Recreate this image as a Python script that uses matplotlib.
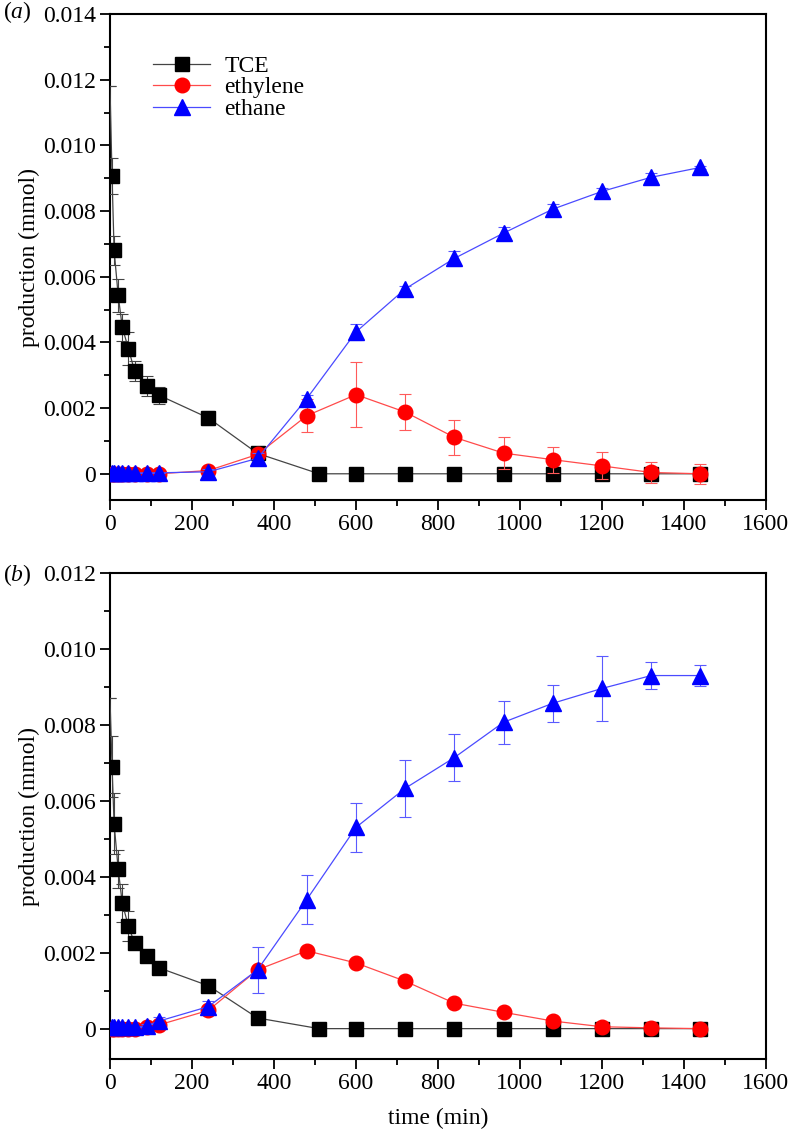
import matplotlib
matplotlib.use('Agg')
import matplotlib.pyplot as plt
from matplotlib.ticker import MultipleLocator, FuncFormatter

plt.rcParams['font.family'] = ['Liberation Serif', 'DejaVu Serif']
plt.rcParams['mathtext.fontset'] = 'custom'
plt.rcParams['mathtext.it'] = 'Liberation Serif:italic'
plt.rcParams['mathtext.rm'] = 'Liberation Serif'

# time points (min)
t_tce = [0, 5, 10, 20, 30, 45, 60, 90, 120, 240, 360, 510, 600, 720, 840, 960, 1080, 1200, 1320, 1440]
t_prod = [5, 10, 20, 30, 45, 60, 90, 120, 240, 360, 480, 600, 720, 840, 960, 1080, 1200, 1320, 1440]

# panel (a)
tce_a = [0.0118, 0.00906, 0.00681, 0.00543, 0.00446, 0.00381, 0.00313, 0.00268, 0.00239, 0.0017, 0.00062,
         0, 0, 0, 0, 0, 0, 0, 0, 0]
tce_a_err = [0, 0.00055, 0.00044, 0.0005, 0.00042, 0.0005, 0.0003, 0.0003, 0.00026, 0.0002, 0.00005,
             0, 0, 0, 0, 0, 0, 0, 0, 0]
ethylene_a = [0, 0, 0, 0, 0, 0, 0, 0, 0.0001, 0.00059, 0.00177, 0.00241, 0.00188, 0.00111, 0.00063,
              0.00043, 0.00024, 0.00004, 0]
ethylene_a_err = [0, 0, 0, 0, 0, 0, 0, 0, 0.00005, 0.0001, 0.0005, 0.00099, 0.00054, 0.00053, 0.00048,
                  0.0004, 0.00041, 0.00032, 0.0003]
ethane_a = [0.00003, 0.00003, 0.00003, 0.00003, 0.00003, 0.00003, 0.00003, 0.00003, 0.00006, 0.00047,
            0.00229, 0.00432, 0.00563, 0.00656, 0.00733, 0.00806, 0.0086, 0.00903, 0.00933]
ethane_a_err = [0, 0, 0, 0, 0, 0, 0, 0, 0.0001, 0.00015, 0.0001, 0.00025, 0.0001, 0.00023, 0.00019,
                0.00017, 0.0001, 0.00012, 0.00005]

# panel (b)
tce_b = [0.0087, 0.0069, 0.0054, 0.0042, 0.0033, 0.0027, 0.00225, 0.0019, 0.0016, 0.00113, 0.00028,
         0, 0, 0, 0, 0, 0, 0, 0, 0]
tce_b_err = [0, 0.0008, 0.0008, 0.0005, 0.0005, 0.0004, 0.00015, 0.0001, 0.00015, 0.00005, 0.00005,
             0, 0, 0, 0, 0, 0, 0, 0, 0]
ethylene_b = [0, 0, 0, 0, 0, 0, 0.00005, 0.0001, 0.00048, 0.00155, 0.00205, 0.00173, 0.00125, 0.00067,
              0.00043, 0.0002, 0.00005, 0.00002, 0]
ethylene_b_err = [0, 0, 0, 0, 0, 0, 0, 0, 0.00005, 0.00005, 0.00005, 0.00005, 0.00008, 0.00005, 0.00005,
                  0.00005, 0.00003, 0.00002, 0.00002]
ethane_b = [0.00003, 0.00003, 0.00003, 0.00003, 0.00003, 0.00003, 0.00008, 0.0002, 0.00058, 0.00155,
            0.0034, 0.0053, 0.00633, 0.00714, 0.00807, 0.00857, 0.00896, 0.0093, 0.0093]
ethane_b_err = [0, 0, 0, 0, 0, 0, 0.00005, 0.0001, 0.00015, 0.0006, 0.00064, 0.00064, 0.00075, 0.00063,
                0.00057, 0.00049, 0.00086, 0.00035, 0.00027]

fig = plt.figure(figsize=(7.93, 11.37), dpi=100)
ax_a = fig.add_axes([0.1387, 0.5602, 0.8272, 0.4274])
ax_b = fig.add_axes([0.1387, 0.0686, 0.8272, 0.4274])


def draw_panel(ax, tce, tce_err, ethylene, ethylene_err, ethane, ethane_err, ytop):
    ax.errorbar(t_tce, tce, yerr=tce_err, color='#444444', lw=0.9, marker='s', ms=10,
                mfc='black', mec='black', markevery=range(1, len(t_tce)),
                ecolor='#444444', elinewidth=0.8, capsize=4.5, capthick=0.8, label='TCE', zorder=3)
    ax.errorbar(t_prod, ethylene, yerr=ethylene_err, color='#ff4a4a', lw=0.9, marker='o', ms=10.5,
                mfc='red', mec='red', ecolor='#ff5a5a', elinewidth=0.8, capsize=4.5, capthick=0.8,
                label='ethylene', zorder=4)
    ax.errorbar(t_prod, ethane, yerr=ethane_err, color='#4a4aff', lw=0.9, marker='^', ms=11,
                mfc='blue', mec='blue', ecolor='#5a5aff', elinewidth=0.8, capsize=4.5, capthick=0.8,
                label='ethane', zorder=5)
    ax.set_xlim(0, 1600)
    ax.set_ylim(-0.0008, ytop)
    ax.xaxis.set_major_locator(MultipleLocator(200))
    ax.xaxis.set_minor_locator(MultipleLocator(100))
    ax.yaxis.set_major_locator(MultipleLocator(0.002))
    ax.yaxis.set_minor_locator(MultipleLocator(0.001))
    ax.yaxis.set_major_formatter(FuncFormatter(lambda v, p: '0' if abs(v) < 1e-9 else f'{v:.3f}'))
    ax.tick_params(which='both', direction='out', top=False, right=False, labelsize=17, width=1.3)
    ax.tick_params(which='major', length=7, pad=3)
    ax.tick_params(which='minor', length=4)
    for s in ax.spines.values():
        s.set_linewidth(1.5)
    ax.set_ylabel('production (mmol)', fontsize=17, labelpad=2)


draw_panel(ax_a, tce_a, tce_a_err, ethylene_a, ethylene_a_err, ethane_a, ethane_a_err, 0.014)
draw_panel(ax_b, tce_b, tce_b_err, ethylene_b, ethylene_b_err, ethane_b, ethane_b_err, 0.012)

handles, labels = ax_a.get_legend_handles_labels()
handles = [h[0] for h in handles]
ax_a.legend(handles, labels, loc='upper left', bbox_to_anchor=(0.066, 0.915), frameon=False,
            fontsize=17, handlelength=2.4, handletextpad=0.6, labelspacing=0.0, borderpad=0,
            borderaxespad=0)

ax_b.set_xlabel('time (min)', fontsize=17, labelpad=10)

fig.text(0.004, 1 - 12 / 1137, r'($\it{a}$)', fontsize=17, va='center', ha='left')
fig.text(0.004, 1 - 575 / 1137, r'($\it{b}$)', fontsize=17, va='center', ha='left')

fig.savefig('out.png', dpi=100)
